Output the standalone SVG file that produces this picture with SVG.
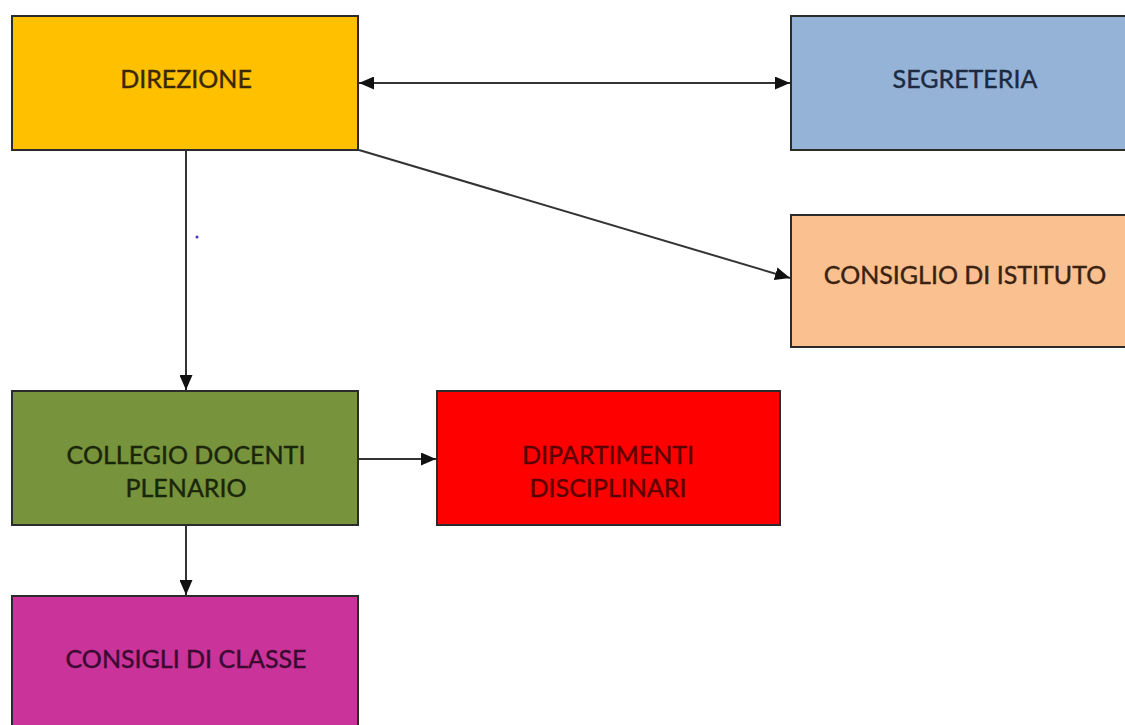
<svg xmlns="http://www.w3.org/2000/svg" width="1125" height="725" viewBox="0 0 1125 725">
<style>
.box{stroke:#2b2b2b;stroke-width:2}
.t{font-family:Lato,"Liberation Sans",sans-serif;font-size:25px;text-anchor:middle;stroke-width:0.4}
.c{stroke:#333;stroke-width:2;fill:none}
</style>
<defs>
<marker id="a" viewBox="0 0 10 10" refX="10" refY="5" markerWidth="15" markerHeight="13" orient="auto-start-reverse" markerUnits="userSpaceOnUse" preserveAspectRatio="none">
<path d="M0,0 L10,5 L0,10 z" fill="#111"/>
</marker>
</defs>
<rect width="1125" height="725" fill="#fff"/>
<g id="connectors">
<line class="c" x1="359" y1="83" x2="790" y2="83" marker-start="url(#a)" marker-end="url(#a)"/>
<line class="c" x1="359" y1="150" x2="790" y2="278" marker-end="url(#a)"/>
<line class="c" x1="186" y1="151" x2="186" y2="390" marker-end="url(#a)"/>
<line class="c" x1="359" y1="459" x2="436" y2="459" marker-end="url(#a)"/>
<line class="c" x1="186" y1="526" x2="186" y2="595" marker-end="url(#a)"/>
</g>
<g id="direzione">
<rect class="box" x="12" y="16" width="346" height="134" fill="#FFC000"/>
<text class="t" x="186" y="88" fill="#3a2800" stroke="#3a2800">DIREZIONE</text>
</g>
<g id="segreteria">
<rect class="box" x="791" y="16" width="345" height="134" fill="#95B3D7"/>
<text class="t" x="965" y="88" fill="#1c2a40" stroke="#1c2a40">SEGRETERIA</text>
</g>
<g id="consiglio-istituto">
<rect class="box" x="791" y="215" width="345" height="132" fill="#FAC090"/>
<text class="t" x="965" y="284" fill="#3a2212" stroke="#3a2212">CONSIGLIO DI ISTITUTO</text>
</g>
<g id="collegio-docenti">
<rect class="box" x="12" y="391" width="346" height="134" fill="#77933C"/>
<text class="t" x="186" y="464" fill="#1a260a" stroke="#1a260a">COLLEGIO DOCENTI</text>
<text class="t" x="186" y="497" fill="#1a260a" stroke="#1a260a">PLENARIO</text>
</g>
<g id="dipartimenti">
<rect class="box" x="437" y="391" width="343" height="134" fill="#FF0000"/>
<text class="t" x="608" y="464" fill="#5a0000" stroke="#5a0000">DIPARTIMENTI</text>
<text class="t" x="608" y="497" fill="#5a0000" stroke="#5a0000">DISCIPLINARI</text>
</g>
<g id="consigli-classe">
<rect class="box" x="12" y="596" width="346" height="140" fill="#C9339A"/>
<text class="t" x="186" y="668" fill="#3a0a30" stroke="#3a0a30">CONSIGLI DI CLASSE</text>
</g>
<circle cx="197" cy="237" r="1.5" fill="#3a3ad0"/>
</svg>
